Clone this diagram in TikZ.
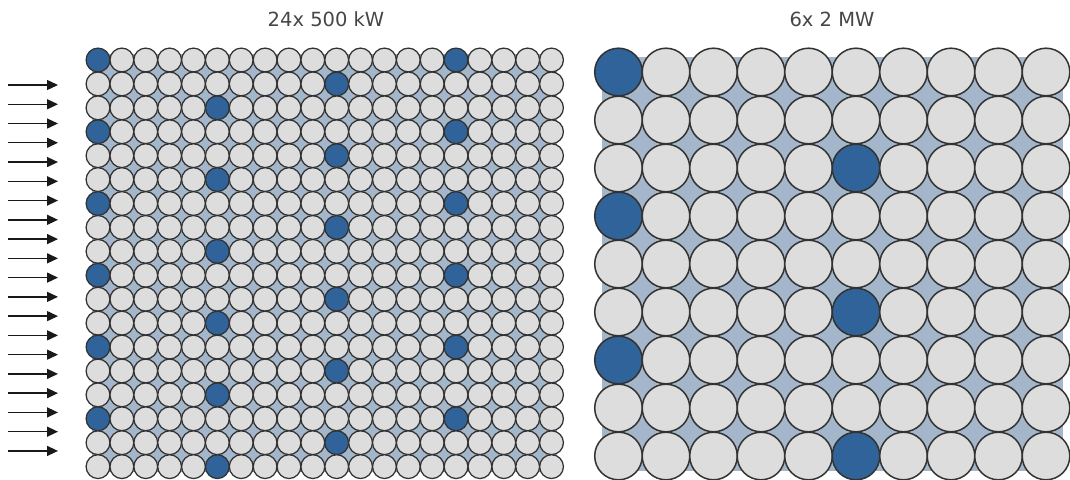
\documentclass[tikz,border=0pt]{standalone}
\usepackage{fontspec}
\setmainfont{DejaVu Sans}
\usetikzlibrary{arrows.meta}
\definecolor{bluefill}{RGB}{48,99,154}
\definecolor{grayfill}{RGB}{221,221,221}
\definecolor{fieldbg}{RGB}{164,182,202}
\definecolor{rim}{RGB}{50,50,50}
\definecolor{titlegray}{RGB}{70,70,70}
\tikzset{
  smallcell/.style={circle, draw=rim, line width=1.25pt, minimum size=23.8pt, inner sep=0pt},
  bigcell/.style={circle, draw=rim, line width=1.5pt, minimum size=47.6pt, inner sep=0pt},
  field/.style={fill=fieldbg},
  title/.style={anchor=base, text=titlegray, font=\fontsize{19.5}{22}\selectfont},
  windarrow/.style={draw=black!90, line width=1.4pt, -{Triangle[length=11pt,width=10pt]}}
}
\begin{document}
\begin{tikzpicture}[x=1pt,y=-1pt]
\clip (0,0) rectangle (1070,479);
\fill[white] (0,0) rectangle (1070,479);
% titles
\node[title] (t1) at (326,27) {24x 500 kW};
\node[title] (t2) at (832,27) {6x 2 MW};
% backgrounds
\fill[field] (92,54) rectangle (557,472);
\fill[field] (602,57) rectangle (1063,471);
% left grid
\foreach \j in {0,...,17}{
  \foreach \i in {0,...,19}{
    \pgfmathtruncatemacro\isblue{(\i==15-5*mod(\j,3)) || (mod(\j,3)==0 && \i==0)}
    \edef\fc{\ifnum\isblue=1 bluefill\else grayfill\fi}
    \node[smallcell, fill=\fc] (L-\j-\i) at ({98+23.87*\i},{60+23.92*\j}) {};
  }
}
% right grid
\foreach \j in {0,...,8}{
  \foreach \i in {0,...,9}{
    \pgfmathtruncatemacro\isblue{(mod(\j,3)==0 && \i==0) || (mod(\j,3)==2 && \i==5)}
    \edef\fc{\ifnum\isblue=1 bluefill\else grayfill\fi}
    \node[bigcell, fill=\fc] (R-\j-\i) at ({618.5+47.5*\i},{72+48*\j}) {};
  }
}
% wind arrows
\foreach \k in {0,...,19}{
  \coordinate (ws-\k) at (8,{85+19.26*\k});
  \coordinate (we-\k) at (58,{85+19.26*\k});
  \draw[windarrow] (ws-\k) -- (we-\k);
}
\end{tikzpicture}
\end{document}
